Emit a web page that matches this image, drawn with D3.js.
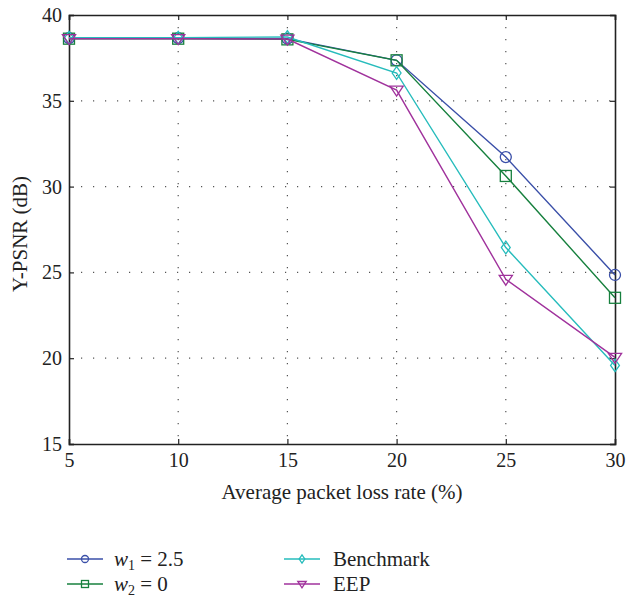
<!DOCTYPE html>
<html><head><meta charset="utf-8">
<script src="https://cdn.jsdelivr.net/npm/d3@7"></script>
<style>body{margin:0;background:#fff}svg{display:block}text{font-family:"Liberation Serif","DejaVu Serif",serif;fill:#222}</style>
</head><body><svg id="c" width="626" height="597"></svg>
<script>
const xValues = [5, 10, 15, 20, 25, 30];
const w1Values = [38.65, 38.65, 38.62, 37.36, 31.72, 24.85];
const w2Values = [38.62, 38.62, 38.58, 37.36, 30.62, 23.52];
const benchValues = [38.68, 38.68, 38.72, 36.62, 26.45, 19.58];
const eepValues = [38.62, 38.62, 38.6, 35.62, 24.6, 20.05];
const seriesNames = ["w1", "w2", "Benchmark", "EEP"];
const xTicks = [5, 10, 15, 20, 25, 30];
const yTicks = [15, 20, 25, 30, 35, 40];

const series = [
  {name: seriesNames[0], values: w1Values, color: "#3a4fa8", marker: "circle"},
  {name: seriesNames[1], values: w2Values, color: "#17803e", marker: "square"},
  {name: seriesNames[2], values: benchValues, color: "#26bcbc", marker: "diamond"},
  {name: seriesNames[3], values: eepValues, color: "#a0329c", marker: "triangle"}
];

const svg = d3.select("#c");
const L = 69, R = 615, T = 15, B = 444;
const x = d3.scaleLinear().domain([5, 30]).range([L, R]);
const y = d3.scaleLinear().domain([15, 40]).range([B, T]);

// grid
const g = svg.append("g");
g.selectAll(".vg").data(xTicks.slice(1, -1)).enter().append("line")
  .attr("x1", d => x(d)).attr("x2", d => x(d)).attr("y1", T).attr("y2", B)
  .attr("stroke", "#555").attr("stroke-width", 1.2).attr("stroke-dasharray", "1.2,10.8");
g.selectAll(".hg").data(yTicks.slice(1, -1)).enter().append("line")
  .attr("y1", d => y(d)).attr("y2", d => y(d)).attr("x1", L).attr("x2", R)
  .attr("stroke", "#555").attr("stroke-width", 1.2).attr("stroke-dasharray", "1.2,10.8");

// axes
const xAxis = svg.append("g").attr("transform", `translate(0,${B})`)
  .call(d3.axisBottom(x).tickValues(xTicks).tickSize(-5).tickPadding(9));
const xAxisTop = svg.append("g").attr("transform", `translate(0,${T})`)
  .call(d3.axisTop(x).tickValues(xTicks).tickSize(-5).tickFormat(""));
const yAxis = svg.append("g").attr("transform", `translate(${L},0)`)
  .call(d3.axisLeft(y).tickValues(yTicks).tickSize(-5).tickPadding(7));
const yAxisR = svg.append("g").attr("transform", `translate(${R},0)`)
  .call(d3.axisRight(y).tickValues(yTicks).tickSize(-5).tickFormat(""));
[xAxis, xAxisTop, yAxis, yAxisR].forEach(a => {
  a.select(".domain").attr("stroke", "#222").attr("stroke-width", 1.6);
  a.selectAll(".tick line").attr("stroke", "#222").attr("stroke-width", 1.2);
  a.selectAll("text").attr("font-size", 20).attr("fill", "#222")
    .style("font-family", '"Liberation Serif",serif');
});

// labels
svg.append("text").attr("x", 342).attr("y", 499).attr("text-anchor", "middle")
  .attr("font-size", 21).text("Average packet loss rate (%)");
svg.append("text").attr("transform", "translate(27,234) rotate(-90)").attr("text-anchor", "middle")
  .attr("font-size", 21).text("Y-PSNR (dB)");

function drawMarker(sel, type, cx, cy, r, color) {
  if (type === "circle") {
    sel.append("circle").attr("cx", cx).attr("cy", cy).attr("r", r)
      .attr("fill", "none").attr("stroke", color).attr("stroke-width", 1.3);
  } else if (type === "square") {
    sel.append("rect").attr("x", cx - r).attr("y", cy - r).attr("width", 2 * r).attr("height", 2 * r)
      .attr("fill", "none").attr("stroke", color).attr("stroke-width", 1.3);
  } else if (type === "diamond") {
    const rr = r * 1.15;
    sel.append("path").attr("d", `M${cx},${cy - rr}L${cx + rr * 0.7},${cy}L${cx},${cy + rr}L${cx - rr * 0.7},${cy}Z`)
      .attr("fill", "none").attr("stroke", color).attr("stroke-width", 1.3);
  } else {
    const rr = r * 1.2;
    sel.append("path").attr("d", `M${cx - rr},${cy - rr * 0.6}L${cx + rr},${cy - rr * 0.6}L${cx},${cy + rr * 0.9}Z`)
      .attr("fill", "none").attr("stroke", color).attr("stroke-width", 1.3);
  }
}

const line = d3.line().x((d, i) => x(xValues[i])).y(d => y(d));
series.forEach(s => {
  const sg = svg.append("g");
  sg.append("path").attr("d", line(s.values)).attr("fill", "none")
    .attr("stroke", s.color).attr("stroke-width", 1.4);
  s.values.forEach((v, i) => drawMarker(sg, s.marker, x(xValues[i]), y(v), 5.5, s.color));
});

// legend
const legendPos = [[67, 559], [67, 584], [284, 559], [284, 584]];
series.forEach((s, i) => {
  const [lx, ly] = legendPos[i];
  const lg = svg.append("g");
  lg.append("line").attr("x1", lx).attr("x2", lx + 36).attr("y1", ly).attr("y2", ly)
    .attr("stroke", s.color).attr("stroke-width", 1.4);
  drawMarker(lg, s.marker, lx + 18, ly, 3.5, s.color);
  const t = lg.append("text").attr("x", lx + (i < 2 ? 47 : 49)).attr("y", ly + 7).attr("font-size", 21);
  if (i === 0 || i === 1) {
    t.append("tspan").attr("font-style", "italic").text("w");
    t.append("tspan").attr("font-size", 14).attr("dy", 4).text(i === 0 ? "1" : "2");
    t.append("tspan").attr("dy", -4).text(i === 0 ? " = 2.5" : " = 0");
  } else {
    t.text(s.name);
  }
});
</script></body></html>
